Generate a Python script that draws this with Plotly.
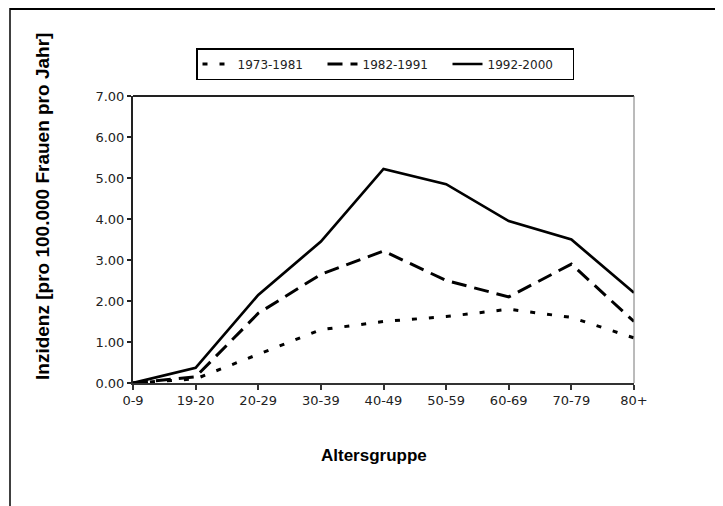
import plotly.graph_objects as go

age_groups = ["0-9", "19-20", "20-29", "30-39", "40-49", "50-59", "60-69", "70-79", "80+"]
series_names = ["1973-1981", "1982-1991", "1992-2000"]
vals_1973_1981 = [0, 0.10, 0.70, 1.30, 1.50, 1.62, 1.80, 1.60, 1.10]
vals_1982_1991 = [0, 0.15, 1.70, 2.65, 3.22, 2.50, 2.10, 2.90, 1.50]
vals_1992_2000 = [0, 0.37, 2.15, 3.45, 5.22, 4.85, 3.95, 3.50, 2.20]
y_ticks = [0, 1, 2, 3, 4, 5, 6, 7]
y_tick_labels = ["0.00", "1.00", "2.00", "3.00", "4.00", "5.00", "6.00", "7.00"]

# page has an 8px body margin; work in reference (page) pixel coordinates
OFF = 8
W, H = 723 - OFF, 506 - OFF
PL, PR, PT, PB = 133, 634, 96, 383   # plot area in page pixels
L, T = PL - OFF, PT - OFF
pw, ph = PR - PL, PB - PT
R, B = W - L - pw, H - T - ph

def px(x):
    return (x - PL) / pw

def py(y):
    return (PB - y) / ph

TICKFONT = "DejaVu Sans, Verdana, sans-serif"
TITLEFONT = "Liberation Sans, Arial, sans-serif"

fig = go.Figure()
styles = [("5px,12px", 3), ("15px,8px", 3), ("solid", 2.7)]
for name, vals, (dash, w) in zip(series_names, [vals_1973_1981, vals_1982_1991, vals_1992_2000], styles):
    fig.add_trace(go.Scatter(x=age_groups, y=vals, mode="lines", name=name,
                             line=dict(color="black", width=w, dash=dash)))

fig.update_layout(
    width=W, height=H,
    margin=dict(l=L, r=R, t=T, b=B, pad=0),
    paper_bgcolor="white", plot_bgcolor="white",
    font=dict(family=TICKFONT, color="#222"),
    showlegend=True,
    legend=dict(orientation="h", x=px(196), y=py(48), xanchor="left", yanchor="top",
                bordercolor="black", borderwidth=1.5, font=dict(size=12, color="#222", family=TICKFONT),
                entrywidth=80, entrywidthmode="pixels", tracegroupgap=0, bgcolor="white"),
    xaxis=dict(type="category", range=[0, 8], showgrid=False, zeroline=False,
               showline=True, linecolor="#333", linewidth=1.5,
               ticks="outside", ticklen=5, tickcolor="#333", tickwidth=1.5,
               tickfont=dict(size=13, color="#222", family=TICKFONT)),
    yaxis=dict(range=[0, 7], tickvals=y_ticks, ticktext=y_tick_labels, showgrid=False,
               zeroline=False, showline=True, linecolor="#222", linewidth=2,
               ticks="outside", ticklen=4, tickcolor="#222", tickwidth=1.5,
               tickfont=dict(size=13, color="#222", family=TICKFONT)),
    shapes=[
        dict(type="line", xref="paper", yref="paper", x0=0, x1=1, y0=1, y1=1,
             line=dict(color="#222", width=2)),
        dict(type="line", xref="paper", yref="paper", x0=1, x1=1, y0=0, y1=1,
             line=dict(color="#777", width=1)),
        dict(type="line", xref="paper", yref="paper", x0=px(10), x1=px(723), y0=py(9), y1=py(9),
             line=dict(color="black", width=2)),
        dict(type="line", xref="paper", yref="paper", x0=px(10), x1=px(10), y0=py(8), y1=py(506),
             line=dict(color="black", width=1.5)),
    ],
    annotations=[
        dict(text="<b>Inzidenz [pro 100.000 Frauen pro Jahr]</b>", xref="paper", yref="paper",
             x=px(42), y=py(207), xanchor="center", yanchor="middle", textangle=-90,
             showarrow=False, font=dict(size=19, color="black", family=TITLEFONT)),
        dict(text="<b>Altersgruppe</b>", xref="paper", yref="paper",
             x=px(374), y=py(455), xanchor="center", yanchor="middle",
             showarrow=False, font=dict(size=17, color="black", family=TITLEFONT)),
    ],
)

fig.write_html("out.html")
